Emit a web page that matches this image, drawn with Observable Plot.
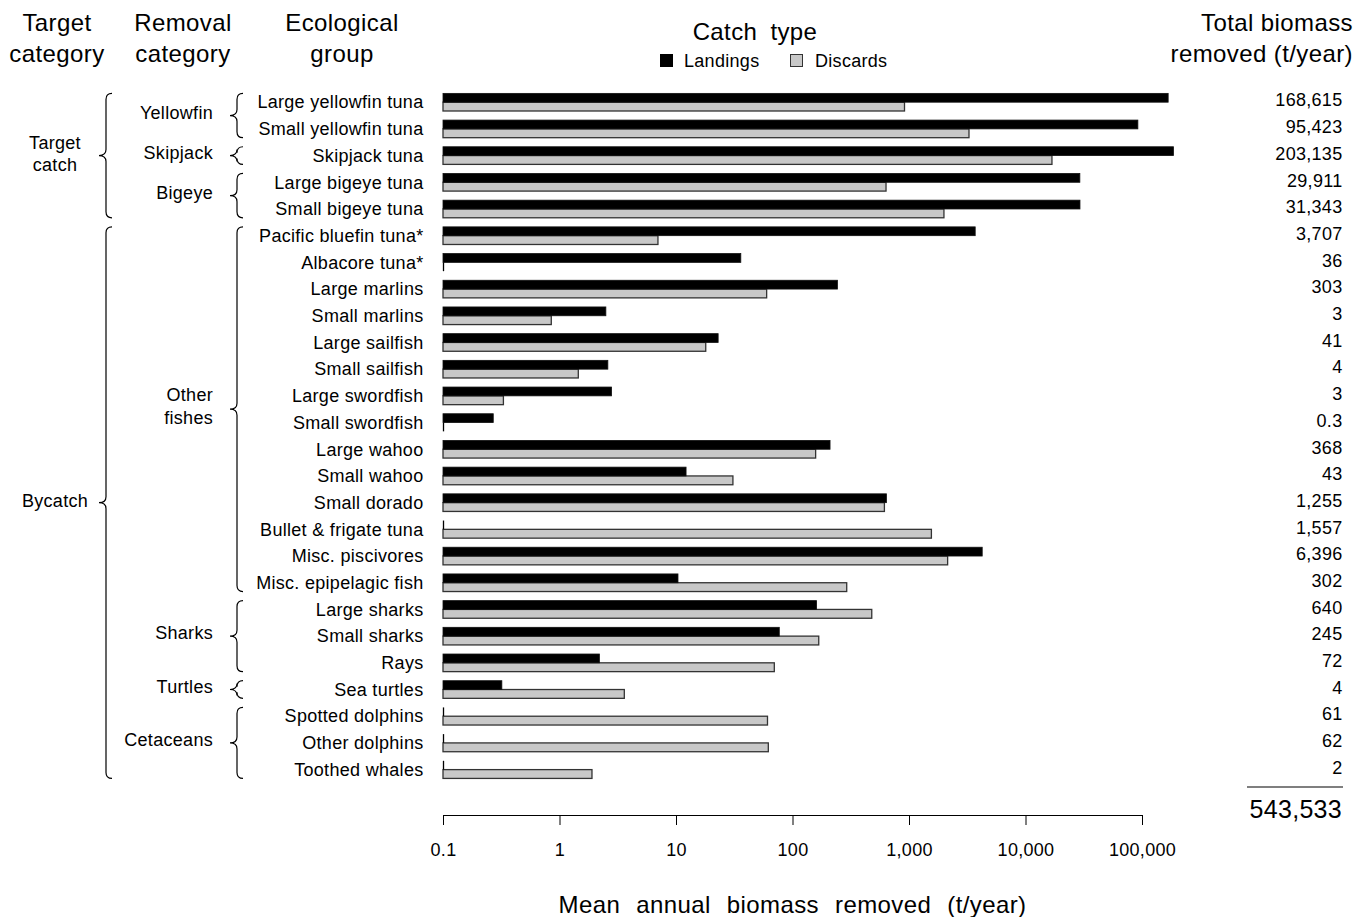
<!DOCTYPE html>
<html>
<head>
<meta charset="utf-8">
<script src="https://cdn.jsdelivr.net/npm/d3@7"></script>
<script src="https://cdn.jsdelivr.net/npm/@observablehq/plot@0.6"></script>
<style>
  body { margin: 0; background: #fff; font-family: "Liberation Sans", Arial, sans-serif; color: #000; }
  #wrap { position: relative; width: 1367px; height: 917px; overflow: hidden; }
  #chart { position: absolute; left: 0; top: 0; }
  .hdr { position: absolute; font-size: 24px; line-height: 31px; letter-spacing: 0.4px; white-space: nowrap; }
  .leg { position: absolute; font-size: 18px; letter-spacing: 0.3px; line-height: 20px; white-space: nowrap; }
  .sw { position: absolute; width: 13px; height: 13px; box-sizing: border-box; }
</style>
</head>
<body>
<div id="wrap">
  <div id="chart"></div>
  <div class="hdr" style="left:0px;width:114px;top:7px;text-align:center">Target<br>category</div>
  <div class="hdr" style="left:118px;width:130px;top:7px;text-align:center">Removal<br>category</div>
  <div class="hdr" style="left:272px;width:140px;top:7px;text-align:center">Ecological<br>group</div>
  <div class="hdr" style="left:655px;width:200px;top:16px;text-align:center;word-spacing:6px">Catch type</div>
  <div class="sw" style="left:660px;top:54px;background:#000"></div>
  <div class="leg" style="left:684px;top:51px">Landings</div>
  <div class="sw" style="left:790px;top:54px;background:#c8c8c8;border:1.3px solid #333"></div>
  <div class="leg" style="left:815px;top:51px">Discards</div>
  <div class="hdr" style="right:14px;top:7px;text-align:right">Total biomass<br>removed (t/year)</div>
</div>
<script>
// ---------------- data ----------------
const groups = [
  "Large yellowfin tuna", "Small yellowfin tuna", "Skipjack tuna", "Large bigeye tuna", "Small bigeye tuna",
  "Pacific bluefin tuna*", "Albacore tuna*", "Large marlins", "Small marlins", "Large sailfish",
  "Small sailfish", "Large swordfish", "Small swordfish", "Large wahoo", "Small wahoo",
  "Small dorado", "Bullet & frigate tuna", "Misc. piscivores", "Misc. epipelagic fish", "Large sharks",
  "Small sharks", "Rays", "Sea turtles", "Spotted dolphins", "Other dolphins", "Toothed whales"
];
const landings = [
  167700, 92150, 186265, 29276, 29348,
  3700, 36, 243, 2.5, 23,
  2.6, 2.8, 0.27, 210, 12.2,
  640, 0, 4250, 10.4, 161,
  77, 2.2, 0.32, 0, 0, 0
];
const discards = [
  915, 3273, 16870, 635, 1995,
  7, 0, 60, 0.85, 18,
  1.45, 0.33, 0, 158, 30.8,
  615, 1557, 2146, 292, 479,
  168, 69.8, 3.6, 61, 62, 1.9
];
const totals = [
  168615, 95423, 203135, 29911, 31343,
  3707, 36, 303, 3, 41,
  4, 3, 0.3, 368, 43,
  1255, 1557, 6396, 302, 640,
  245, 72, 4, 61, 62, 2
];
const grandTotal = 543533;
const xTicks = [0.1, 1, 10, 100, 1000, 10000, 100000];

const removalNames = ["Yellowfin", "Skipjack", "Bigeye", "Other\nfishes", "Sharks", "Turtles", "Cetaceans"];
const removalFirst = ["Large yellowfin tuna", "Skipjack tuna", "Large bigeye tuna", "Pacific bluefin tuna*", "Large sharks", "Sea turtles", "Spotted dolphins"];
const removalLast  = ["Small yellowfin tuna", "Skipjack tuna", "Small bigeye tuna", "Misc. epipelagic fish", "Rays", "Sea turtles", "Toothed whales"];

const targetNames = ["Target\ncatch", "Bycatch"];
const targetFirst = ["Large yellowfin tuna", "Pacific bluefin tuna*"];
const targetLast  = ["Small bigeye tuna", "Toothed whales"];

const axisTitle = "Mean annual biomass removed (t/year)";

// ---------------- layout ----------------
const W = 1367, H = 917;
const yPad = 0.34;
const yRange = [84.3, 787.5];
const step = (yRange[1] - yRange[0]) / (groups.length - yPad + 2 * yPad);
const bw = step * (1 - yPad);
const half = bw / 2;
const fmt = d3.format(",");

const rows = groups.map((g, i) => ({group: g, landings: landings[i], discards: discards[i], total: totals[i]}));

function decorations(index, scales, values, dimensions) {
  const y = scales.y, x = scales.x;
  const band = (y.bandwidth ? y.bandwidth() : bw);
  const svg = d3.create("svg:g");
  const brace = (bx, y0, y1, w = 7, c = 6) => {
    const ym = (y0 + y1) / 2;
    return `M${bx + c},${y0} Q${bx},${y0} ${bx},${y0 + c} L${bx},${ym - c} Q${bx},${ym} ${bx - w},${ym} ` +
           `Q${bx},${ym} ${bx},${ym + c} L${bx},${y1 - c} Q${bx},${y1} ${bx + c},${y1}`;
  };
  const addGroupLevel = (names, firsts, lasts, bx, labelX, anchor, lineH, shift) => {
    names.forEach((n, i) => {
      const y0 = y(firsts[i]), y1 = y(lasts[i]) + band;
      svg.append("path").attr("d", brace(bx, y0, y1)).attr("fill", "none")
        .attr("stroke", "#000").attr("stroke-width", 1.2);
      const lines = n.split("\n");
      const ym = (y0 + y1) / 2 + shift;
      const t = svg.append("text").attr("text-anchor", anchor).attr("fill", "#000");
      lines.forEach((ln, k) => {
        t.append("tspan").attr("x", labelX)
          .attr("y", ym + (k - (lines.length - 1) / 2) * lineH)
          .attr("dy", "0.35em").text(ln);
      });
    });
  };
  addGroupLevel(targetNames, targetFirst, targetLast, 106, 55, "middle", 22, -2);
  addGroupLevel(removalNames, removalFirst, removalLast, 237, 213, "end", 23, -3);

  // axis title
  const [xa, xb] = x.range ? x.range() : [dimensions.marginLeft, dimensions.width - dimensions.marginRight];
  svg.append("text").attr("x", (xa + xb) / 2).attr("y", 905).attr("dy", "0.35em")
    .attr("text-anchor", "middle").attr("fill", "#000")
    .style("font-size", "24px").style("letter-spacing", "0.4px").style("word-spacing", "9px")
    .text(axisTitle);

  // grand total
  const tx = dimensions.width - dimensions.marginRight + 200;
  svg.append("line").attr("x1", tx - 95).attr("x2", tx + 1).attr("y1", 787).attr("y2", 787)
    .attr("stroke", "#000").attr("stroke-width", 1.2);
  svg.append("text").attr("x", tx).attr("y", 809).attr("dy", "0.35em").attr("text-anchor", "end")
    .attr("fill", "#000").style("font-size", "25px").style("letter-spacing", "0.3px")
    .text(fmt(grandTotal));
  return svg.node();
}

const chart = Plot.plot({
  width: W, height: H,
  marginLeft: 443, marginRight: 225, marginTop: 84, marginBottom: 102,
  style: {fontFamily: "'Liberation Sans', Arial, sans-serif", fontSize: "18px", letterSpacing: "0.3px", color: "#000", background: "#fff"},
  x: {type: "log", domain: [0.1, 100000], ticks: xTicks, tickFormat: fmt, tickSize: 10, tickPadding: 18, label: null, line: true},
  y: {domain: groups, range: yRange, padding: yPad, round: false, tickSize: 0, tickPadding: 20, label: null},
  marks: [
    Plot.barX(rows.filter(d => d.discards > 0), {x1: 0.1, x2: "discards", y: "group", insetTop: half, fill: "#c8c8c8", stroke: "#333", strokeWidth: 1.3}),
    Plot.barX(rows.filter(d => d.landings > 0), {x1: 0.1, x2: "landings", y: "group", insetBottom: half, fill: "#000", stroke: "#111", strokeWidth: 0.8}),
    Plot.tickX(rows.filter(d => d.landings === 0), {x: 0.1, y: "group", insetBottom: half, stroke: "#000", strokeWidth: 1.3}),
    Plot.tickX(rows.filter(d => d.discards === 0), {x: 0.1, y: "group", insetTop: half, stroke: "#000", strokeWidth: 1.3}),
    Plot.text(rows, {y: "group", text: d => fmt(d.total), frameAnchor: "right", dx: 200, dy: -2, textAnchor: "end", fill: "#000"}),
    decorations
  ]
});
document.getElementById("chart").appendChild(chart);
</script>
</body>
</html>
